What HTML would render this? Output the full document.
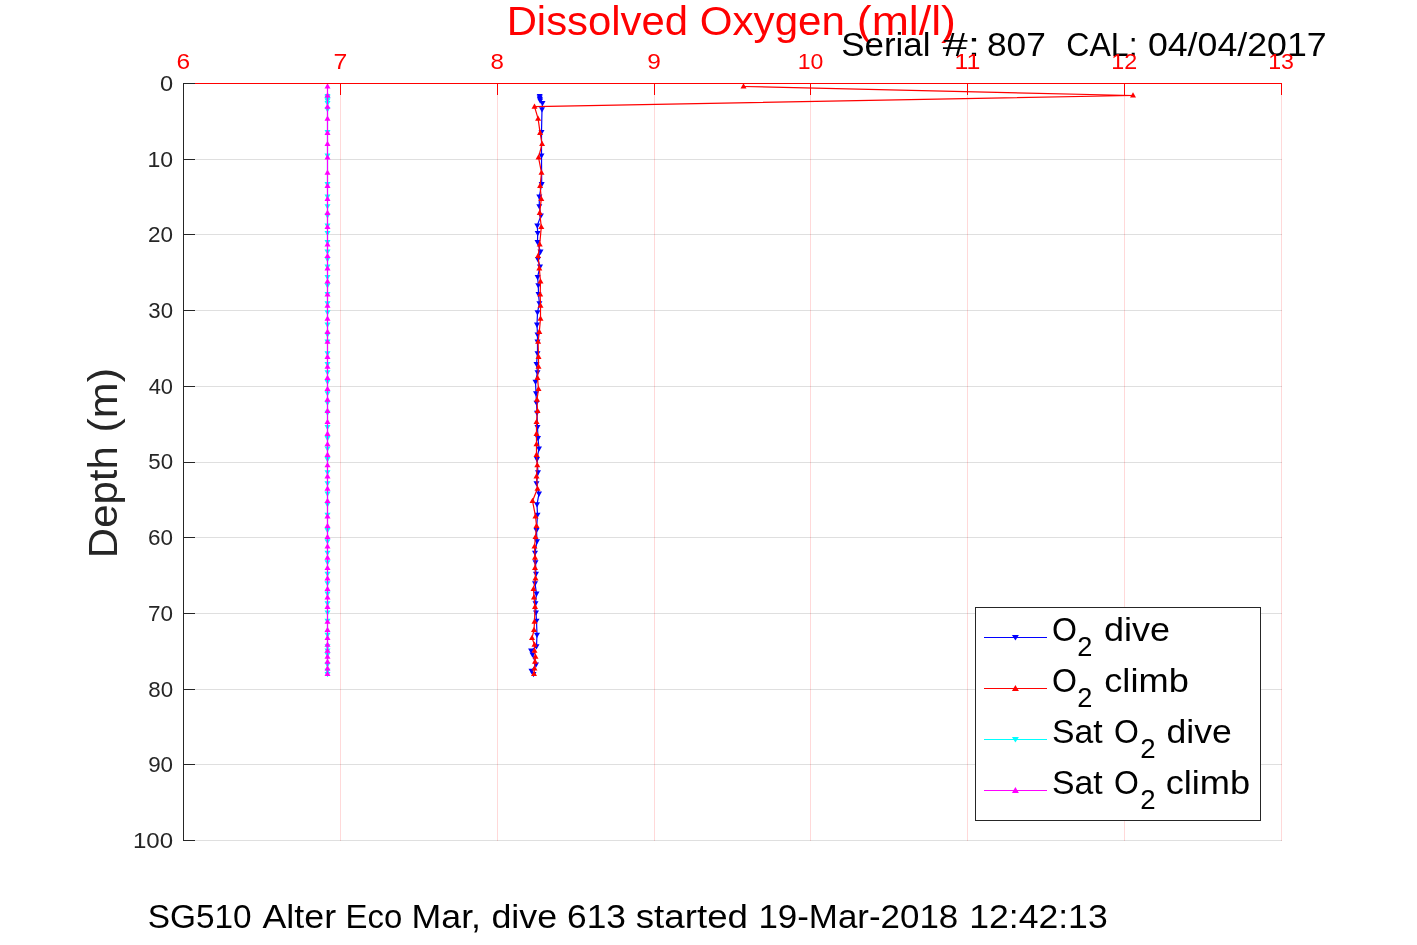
<!DOCTYPE html>
<html><head><meta charset="utf-8"><style>
html,body{margin:0;padding:0;background:#fff;overflow:hidden;}
svg{display:block;font-family:"Liberation Sans",sans-serif;}
</style></head><body>
<svg width="1417" height="945" viewBox="0 0 1417 945">
<rect width="1417" height="945" fill="#fff"/>
<line x1="340.5" y1="83" x2="340.5" y2="841" stroke="#ff0000" stroke-opacity="0.15" stroke-width="1"/>
<line x1="497.5" y1="83" x2="497.5" y2="841" stroke="#ff0000" stroke-opacity="0.15" stroke-width="1"/>
<line x1="654.5" y1="83" x2="654.5" y2="841" stroke="#ff0000" stroke-opacity="0.15" stroke-width="1"/>
<line x1="810.5" y1="83" x2="810.5" y2="841" stroke="#ff0000" stroke-opacity="0.15" stroke-width="1"/>
<line x1="967.5" y1="83" x2="967.5" y2="841" stroke="#ff0000" stroke-opacity="0.15" stroke-width="1"/>
<line x1="1124.5" y1="83" x2="1124.5" y2="841" stroke="#ff0000" stroke-opacity="0.15" stroke-width="1"/>
<line x1="1281.5" y1="83" x2="1281.5" y2="841" stroke="#ff0000" stroke-opacity="0.15" stroke-width="1"/>
<line x1="183" y1="159.5" x2="1282" y2="159.5" stroke="#262626" stroke-opacity="0.15" stroke-width="1"/>
<line x1="183" y1="234.5" x2="1282" y2="234.5" stroke="#262626" stroke-opacity="0.15" stroke-width="1"/>
<line x1="183" y1="310.5" x2="1282" y2="310.5" stroke="#262626" stroke-opacity="0.15" stroke-width="1"/>
<line x1="183" y1="386.5" x2="1282" y2="386.5" stroke="#262626" stroke-opacity="0.15" stroke-width="1"/>
<line x1="183" y1="462.5" x2="1282" y2="462.5" stroke="#262626" stroke-opacity="0.15" stroke-width="1"/>
<line x1="183" y1="537.5" x2="1282" y2="537.5" stroke="#262626" stroke-opacity="0.15" stroke-width="1"/>
<line x1="183" y1="613.5" x2="1282" y2="613.5" stroke="#262626" stroke-opacity="0.15" stroke-width="1"/>
<line x1="183" y1="689.5" x2="1282" y2="689.5" stroke="#262626" stroke-opacity="0.15" stroke-width="1"/>
<line x1="183" y1="764.5" x2="1282" y2="764.5" stroke="#262626" stroke-opacity="0.15" stroke-width="1"/>
<line x1="183" y1="840.5" x2="1282" y2="840.5" stroke="#262626" stroke-opacity="0.15" stroke-width="1"/>
<path d="M327.5 96.0 L327.5 97.5 L327.5 99.0 L327.5 100.5 L327.5 103.1 L327.5 109.4 L327.5 132.0 L327.5 155.5 L327.5 184.2 L327.5 196.5 L327.5 206.4 L327.5 215.6 L327.5 225.5 L327.5 233.0 L327.5 242.1 L327.5 251.7 L327.5 259.2 L327.5 266.7 L327.5 277.0 L327.5 285.4 L327.5 294.1 L327.5 303.3 L327.5 312.4 L327.5 324.7 L327.5 334.6 L327.5 341.7 L327.5 353.3 L327.5 364.0 L327.5 372.3 L327.5 381.8 L327.5 393.3 L327.5 402.9 L327.5 412.8 L327.5 427.1 L327.5 438.2 L327.5 448.5 L327.5 459.2 L327.5 472.3 L327.5 483.4 L327.5 493.7 L327.5 504.4 L327.5 514.8 L327.5 530.2 L327.5 541.3 L327.5 552.9 L327.5 562.4 L327.5 573.9 L327.5 583.4 L327.5 593.7 L327.5 603.3 L327.5 612.5 L327.5 620.9 L327.5 634.8 L327.5 646.3 L327.5 650.6 L327.5 654.6 L327.5 664.5 L327.5 670.9 L327.5 674.0" fill="none" stroke="#00ffff" stroke-width="1.2" stroke-linejoin="round"/>
<path d="M327.5 99.2L330.5 93.9L324.5 93.9Z" fill="#00ffff"/>
<path d="M327.5 100.7L330.5 95.4L324.5 95.4Z" fill="#00ffff"/>
<path d="M327.5 102.2L330.5 96.9L324.5 96.9Z" fill="#00ffff"/>
<path d="M327.5 103.7L330.5 98.4L324.5 98.4Z" fill="#00ffff"/>
<path d="M327.5 106.3L330.5 101.0L324.5 101.0Z" fill="#00ffff"/>
<path d="M327.5 112.6L330.5 107.3L324.5 107.3Z" fill="#00ffff"/>
<path d="M327.5 135.2L330.5 129.9L324.5 129.9Z" fill="#00ffff"/>
<path d="M327.5 158.7L330.5 153.4L324.5 153.4Z" fill="#00ffff"/>
<path d="M327.5 187.4L330.5 182.1L324.5 182.1Z" fill="#00ffff"/>
<path d="M327.5 199.7L330.5 194.4L324.5 194.4Z" fill="#00ffff"/>
<path d="M327.5 209.6L330.5 204.3L324.5 204.3Z" fill="#00ffff"/>
<path d="M327.5 218.8L330.5 213.5L324.5 213.5Z" fill="#00ffff"/>
<path d="M327.5 228.7L330.5 223.4L324.5 223.4Z" fill="#00ffff"/>
<path d="M327.5 236.2L330.5 230.9L324.5 230.9Z" fill="#00ffff"/>
<path d="M327.5 245.3L330.5 240.0L324.5 240.0Z" fill="#00ffff"/>
<path d="M327.5 254.9L330.5 249.6L324.5 249.6Z" fill="#00ffff"/>
<path d="M327.5 262.4L330.5 257.1L324.5 257.1Z" fill="#00ffff"/>
<path d="M327.5 269.9L330.5 264.6L324.5 264.6Z" fill="#00ffff"/>
<path d="M327.5 280.2L330.5 274.9L324.5 274.9Z" fill="#00ffff"/>
<path d="M327.5 288.6L330.5 283.3L324.5 283.3Z" fill="#00ffff"/>
<path d="M327.5 297.3L330.5 292.0L324.5 292.0Z" fill="#00ffff"/>
<path d="M327.5 306.5L330.5 301.2L324.5 301.2Z" fill="#00ffff"/>
<path d="M327.5 315.6L330.5 310.3L324.5 310.3Z" fill="#00ffff"/>
<path d="M327.5 327.9L330.5 322.6L324.5 322.6Z" fill="#00ffff"/>
<path d="M327.5 337.8L330.5 332.5L324.5 332.5Z" fill="#00ffff"/>
<path d="M327.5 344.9L330.5 339.6L324.5 339.6Z" fill="#00ffff"/>
<path d="M327.5 356.5L330.5 351.2L324.5 351.2Z" fill="#00ffff"/>
<path d="M327.5 367.2L330.5 361.9L324.5 361.9Z" fill="#00ffff"/>
<path d="M327.5 375.5L330.5 370.2L324.5 370.2Z" fill="#00ffff"/>
<path d="M327.5 385.0L330.5 379.7L324.5 379.7Z" fill="#00ffff"/>
<path d="M327.5 396.5L330.5 391.2L324.5 391.2Z" fill="#00ffff"/>
<path d="M327.5 406.1L330.5 400.8L324.5 400.8Z" fill="#00ffff"/>
<path d="M327.5 416.0L330.5 410.7L324.5 410.7Z" fill="#00ffff"/>
<path d="M327.5 430.3L330.5 425.0L324.5 425.0Z" fill="#00ffff"/>
<path d="M327.5 441.4L330.5 436.1L324.5 436.1Z" fill="#00ffff"/>
<path d="M327.5 451.7L330.5 446.4L324.5 446.4Z" fill="#00ffff"/>
<path d="M327.5 462.4L330.5 457.1L324.5 457.1Z" fill="#00ffff"/>
<path d="M327.5 475.5L330.5 470.2L324.5 470.2Z" fill="#00ffff"/>
<path d="M327.5 486.6L330.5 481.3L324.5 481.3Z" fill="#00ffff"/>
<path d="M327.5 496.9L330.5 491.6L324.5 491.6Z" fill="#00ffff"/>
<path d="M327.5 507.6L330.5 502.3L324.5 502.3Z" fill="#00ffff"/>
<path d="M327.5 518.0L330.5 512.7L324.5 512.7Z" fill="#00ffff"/>
<path d="M327.5 533.4L330.5 528.1L324.5 528.1Z" fill="#00ffff"/>
<path d="M327.5 544.5L330.5 539.2L324.5 539.2Z" fill="#00ffff"/>
<path d="M327.5 556.1L330.5 550.8L324.5 550.8Z" fill="#00ffff"/>
<path d="M327.5 565.6L330.5 560.3L324.5 560.3Z" fill="#00ffff"/>
<path d="M327.5 577.1L330.5 571.8L324.5 571.8Z" fill="#00ffff"/>
<path d="M327.5 586.6L330.5 581.3L324.5 581.3Z" fill="#00ffff"/>
<path d="M327.5 596.9L330.5 591.6L324.5 591.6Z" fill="#00ffff"/>
<path d="M327.5 606.5L330.5 601.2L324.5 601.2Z" fill="#00ffff"/>
<path d="M327.5 615.7L330.5 610.4L324.5 610.4Z" fill="#00ffff"/>
<path d="M327.5 624.1L330.5 618.8L324.5 618.8Z" fill="#00ffff"/>
<path d="M327.5 638.0L330.5 632.7L324.5 632.7Z" fill="#00ffff"/>
<path d="M327.5 649.5L330.5 644.2L324.5 644.2Z" fill="#00ffff"/>
<path d="M327.5 653.8L330.5 648.5L324.5 648.5Z" fill="#00ffff"/>
<path d="M327.5 657.8L330.5 652.5L324.5 652.5Z" fill="#00ffff"/>
<path d="M327.5 667.7L330.5 662.4L324.5 662.4Z" fill="#00ffff"/>
<path d="M327.5 674.1L330.5 668.8L324.5 668.8Z" fill="#00ffff"/>
<path d="M327.5 677.2L330.5 671.9L324.5 671.9Z" fill="#00ffff"/>
<path d="M327.5 86.5 L327.5 95.5 L327.5 106.7 L327.5 118.6 L327.5 132.8 L327.5 144.0 L327.5 157.4 L327.5 172.7 L327.5 185.8 L327.5 198.9 L327.5 212.8 L327.5 227.0 L327.5 244.5 L327.5 256.0 L327.5 268.3 L327.5 281.4 L327.5 294.5 L327.5 305.6 L327.5 318.7 L327.5 331.8 L327.5 341.7 L327.5 356.8 L327.5 366.7 L327.5 377.9 L327.5 389.0 L327.5 399.7 L327.5 410.8 L327.5 421.9 L327.5 433.8 L327.5 444.1 L327.5 454.8 L327.5 465.2 L327.5 476.3 L327.5 488.6 L327.5 500.9 L327.5 516.3 L327.5 525.9 L327.5 537.0 L327.5 546.5 L327.5 557.6 L327.5 567.9 L327.5 578.3 L327.5 589.0 L327.5 597.3 L327.5 606.8 L327.5 621.7 L327.5 630.0 L327.5 637.9 L327.5 644.7 L327.5 650.6 L327.5 656.6 L327.5 661.7 L327.5 668.5 L327.5 674.0" fill="none" stroke="#ff00ff" stroke-width="1.2" stroke-linejoin="round"/>
<path d="M327.5 83.3L330.5 88.6L324.5 88.6Z" fill="#ff00ff"/>
<path d="M327.5 92.3L330.5 97.6L324.5 97.6Z" fill="#ff00ff"/>
<path d="M327.5 103.5L330.5 108.8L324.5 108.8Z" fill="#ff00ff"/>
<path d="M327.5 115.4L330.5 120.7L324.5 120.7Z" fill="#ff00ff"/>
<path d="M327.5 129.6L330.5 134.9L324.5 134.9Z" fill="#ff00ff"/>
<path d="M327.5 140.8L330.5 146.1L324.5 146.1Z" fill="#ff00ff"/>
<path d="M327.5 154.2L330.5 159.5L324.5 159.5Z" fill="#ff00ff"/>
<path d="M327.5 169.5L330.5 174.8L324.5 174.8Z" fill="#ff00ff"/>
<path d="M327.5 182.6L330.5 187.9L324.5 187.9Z" fill="#ff00ff"/>
<path d="M327.5 195.7L330.5 201.0L324.5 201.0Z" fill="#ff00ff"/>
<path d="M327.5 209.6L330.5 214.9L324.5 214.9Z" fill="#ff00ff"/>
<path d="M327.5 223.8L330.5 229.1L324.5 229.1Z" fill="#ff00ff"/>
<path d="M327.5 241.3L330.5 246.6L324.5 246.6Z" fill="#ff00ff"/>
<path d="M327.5 252.8L330.5 258.1L324.5 258.1Z" fill="#ff00ff"/>
<path d="M327.5 265.1L330.5 270.4L324.5 270.4Z" fill="#ff00ff"/>
<path d="M327.5 278.2L330.5 283.5L324.5 283.5Z" fill="#ff00ff"/>
<path d="M327.5 291.3L330.5 296.6L324.5 296.6Z" fill="#ff00ff"/>
<path d="M327.5 302.4L330.5 307.7L324.5 307.7Z" fill="#ff00ff"/>
<path d="M327.5 315.5L330.5 320.8L324.5 320.8Z" fill="#ff00ff"/>
<path d="M327.5 328.6L330.5 333.9L324.5 333.9Z" fill="#ff00ff"/>
<path d="M327.5 338.5L330.5 343.8L324.5 343.8Z" fill="#ff00ff"/>
<path d="M327.5 353.6L330.5 358.9L324.5 358.9Z" fill="#ff00ff"/>
<path d="M327.5 363.5L330.5 368.8L324.5 368.8Z" fill="#ff00ff"/>
<path d="M327.5 374.7L330.5 380.0L324.5 380.0Z" fill="#ff00ff"/>
<path d="M327.5 385.8L330.5 391.1L324.5 391.1Z" fill="#ff00ff"/>
<path d="M327.5 396.5L330.5 401.8L324.5 401.8Z" fill="#ff00ff"/>
<path d="M327.5 407.6L330.5 412.9L324.5 412.9Z" fill="#ff00ff"/>
<path d="M327.5 418.7L330.5 424.0L324.5 424.0Z" fill="#ff00ff"/>
<path d="M327.5 430.6L330.5 435.9L324.5 435.9Z" fill="#ff00ff"/>
<path d="M327.5 440.9L330.5 446.2L324.5 446.2Z" fill="#ff00ff"/>
<path d="M327.5 451.6L330.5 456.9L324.5 456.9Z" fill="#ff00ff"/>
<path d="M327.5 462.0L330.5 467.3L324.5 467.3Z" fill="#ff00ff"/>
<path d="M327.5 473.1L330.5 478.4L324.5 478.4Z" fill="#ff00ff"/>
<path d="M327.5 485.4L330.5 490.7L324.5 490.7Z" fill="#ff00ff"/>
<path d="M327.5 497.7L330.5 503.0L324.5 503.0Z" fill="#ff00ff"/>
<path d="M327.5 513.1L330.5 518.4L324.5 518.4Z" fill="#ff00ff"/>
<path d="M327.5 522.7L330.5 528.0L324.5 528.0Z" fill="#ff00ff"/>
<path d="M327.5 533.8L330.5 539.1L324.5 539.1Z" fill="#ff00ff"/>
<path d="M327.5 543.3L330.5 548.6L324.5 548.6Z" fill="#ff00ff"/>
<path d="M327.5 554.4L330.5 559.7L324.5 559.7Z" fill="#ff00ff"/>
<path d="M327.5 564.7L330.5 570.0L324.5 570.0Z" fill="#ff00ff"/>
<path d="M327.5 575.1L330.5 580.4L324.5 580.4Z" fill="#ff00ff"/>
<path d="M327.5 585.8L330.5 591.1L324.5 591.1Z" fill="#ff00ff"/>
<path d="M327.5 594.1L330.5 599.4L324.5 599.4Z" fill="#ff00ff"/>
<path d="M327.5 603.6L330.5 608.9L324.5 608.9Z" fill="#ff00ff"/>
<path d="M327.5 618.5L330.5 623.8L324.5 623.8Z" fill="#ff00ff"/>
<path d="M327.5 626.8L330.5 632.1L324.5 632.1Z" fill="#ff00ff"/>
<path d="M327.5 634.7L330.5 640.0L324.5 640.0Z" fill="#ff00ff"/>
<path d="M327.5 641.5L330.5 646.8L324.5 646.8Z" fill="#ff00ff"/>
<path d="M327.5 647.4L330.5 652.7L324.5 652.7Z" fill="#ff00ff"/>
<path d="M327.5 653.4L330.5 658.7L324.5 658.7Z" fill="#ff00ff"/>
<path d="M327.5 658.5L330.5 663.8L324.5 663.8Z" fill="#ff00ff"/>
<path d="M327.5 665.3L330.5 670.6L324.5 670.6Z" fill="#ff00ff"/>
<path d="M327.5 670.8L330.5 676.1L324.5 676.1Z" fill="#ff00ff"/>
<path d="M539.7 96.0 L539.7 97.5 L539.9 99.0 L540.2 100.5 L542.5 103.1 L542.0 109.4 L541.5 132.0 L541.5 155.5 L541.7 184.2 L539.3 196.5 L539.3 206.4 L540.9 215.6 L537.3 225.5 L537.7 233.0 L537.5 242.1 L540.5 251.7 L537.9 259.2 L540.0 266.7 L537.6 277.0 L538.3 285.4 L538.5 294.1 L539.4 303.3 L537.5 312.4 L537.0 324.7 L537.5 334.6 L537.5 341.7 L537.5 353.3 L536.5 364.0 L537.5 372.3 L535.5 381.8 L536.0 393.3 L536.5 402.9 L537.0 412.8 L537.5 427.1 L538.0 438.2 L539.0 448.5 L537.0 459.2 L538.0 472.3 L536.5 483.4 L539.0 493.7 L537.0 504.4 L537.5 514.8 L536.5 530.2 L537.0 541.3 L535.0 552.9 L535.5 562.4 L536.0 573.9 L535.0 583.4 L536.5 593.7 L535.5 603.3 L536.0 612.5 L536.5 620.9 L537.0 634.8 L536.5 646.3 L531.1 650.6 L532.5 654.6 L536.0 664.5 L531.5 670.9 L533.5 674.0" fill="none" stroke="#0000ff" stroke-width="1.2" stroke-linejoin="round"/>
<path d="M539.7 99.2L542.7 93.9L536.7 93.9Z" fill="#0000ff"/>
<path d="M539.7 100.7L542.7 95.4L536.7 95.4Z" fill="#0000ff"/>
<path d="M539.9 102.2L542.9 96.9L536.9 96.9Z" fill="#0000ff"/>
<path d="M540.2 103.7L543.2 98.4L537.2 98.4Z" fill="#0000ff"/>
<path d="M542.5 106.3L545.5 101.0L539.5 101.0Z" fill="#0000ff"/>
<path d="M542.0 112.6L545.0 107.3L539.0 107.3Z" fill="#0000ff"/>
<path d="M541.5 135.2L544.5 129.9L538.5 129.9Z" fill="#0000ff"/>
<path d="M541.5 158.7L544.5 153.4L538.5 153.4Z" fill="#0000ff"/>
<path d="M541.7 187.4L544.7 182.1L538.7 182.1Z" fill="#0000ff"/>
<path d="M539.3 199.7L542.3 194.4L536.3 194.4Z" fill="#0000ff"/>
<path d="M539.3 209.6L542.3 204.3L536.3 204.3Z" fill="#0000ff"/>
<path d="M540.9 218.8L543.9 213.5L537.9 213.5Z" fill="#0000ff"/>
<path d="M537.3 228.7L540.3 223.4L534.3 223.4Z" fill="#0000ff"/>
<path d="M537.7 236.2L540.7 230.9L534.7 230.9Z" fill="#0000ff"/>
<path d="M537.5 245.3L540.5 240.0L534.5 240.0Z" fill="#0000ff"/>
<path d="M540.5 254.9L543.5 249.6L537.5 249.6Z" fill="#0000ff"/>
<path d="M537.9 262.4L540.9 257.1L534.9 257.1Z" fill="#0000ff"/>
<path d="M540.0 269.9L543.0 264.6L537.0 264.6Z" fill="#0000ff"/>
<path d="M537.6 280.2L540.6 274.9L534.6 274.9Z" fill="#0000ff"/>
<path d="M538.3 288.6L541.3 283.3L535.3 283.3Z" fill="#0000ff"/>
<path d="M538.5 297.3L541.5 292.0L535.5 292.0Z" fill="#0000ff"/>
<path d="M539.4 306.5L542.4 301.2L536.4 301.2Z" fill="#0000ff"/>
<path d="M537.5 315.6L540.5 310.3L534.5 310.3Z" fill="#0000ff"/>
<path d="M537.0 327.9L540.0 322.6L534.0 322.6Z" fill="#0000ff"/>
<path d="M537.5 337.8L540.5 332.5L534.5 332.5Z" fill="#0000ff"/>
<path d="M537.5 344.9L540.5 339.6L534.5 339.6Z" fill="#0000ff"/>
<path d="M537.5 356.5L540.5 351.2L534.5 351.2Z" fill="#0000ff"/>
<path d="M536.5 367.2L539.5 361.9L533.5 361.9Z" fill="#0000ff"/>
<path d="M537.5 375.5L540.5 370.2L534.5 370.2Z" fill="#0000ff"/>
<path d="M535.5 385.0L538.5 379.7L532.5 379.7Z" fill="#0000ff"/>
<path d="M536.0 396.5L539.0 391.2L533.0 391.2Z" fill="#0000ff"/>
<path d="M536.5 406.1L539.5 400.8L533.5 400.8Z" fill="#0000ff"/>
<path d="M537.0 416.0L540.0 410.7L534.0 410.7Z" fill="#0000ff"/>
<path d="M537.5 430.3L540.5 425.0L534.5 425.0Z" fill="#0000ff"/>
<path d="M538.0 441.4L541.0 436.1L535.0 436.1Z" fill="#0000ff"/>
<path d="M539.0 451.7L542.0 446.4L536.0 446.4Z" fill="#0000ff"/>
<path d="M537.0 462.4L540.0 457.1L534.0 457.1Z" fill="#0000ff"/>
<path d="M538.0 475.5L541.0 470.2L535.0 470.2Z" fill="#0000ff"/>
<path d="M536.5 486.6L539.5 481.3L533.5 481.3Z" fill="#0000ff"/>
<path d="M539.0 496.9L542.0 491.6L536.0 491.6Z" fill="#0000ff"/>
<path d="M537.0 507.6L540.0 502.3L534.0 502.3Z" fill="#0000ff"/>
<path d="M537.5 518.0L540.5 512.7L534.5 512.7Z" fill="#0000ff"/>
<path d="M536.5 533.4L539.5 528.1L533.5 528.1Z" fill="#0000ff"/>
<path d="M537.0 544.5L540.0 539.2L534.0 539.2Z" fill="#0000ff"/>
<path d="M535.0 556.1L538.0 550.8L532.0 550.8Z" fill="#0000ff"/>
<path d="M535.5 565.6L538.5 560.3L532.5 560.3Z" fill="#0000ff"/>
<path d="M536.0 577.1L539.0 571.8L533.0 571.8Z" fill="#0000ff"/>
<path d="M535.0 586.6L538.0 581.3L532.0 581.3Z" fill="#0000ff"/>
<path d="M536.5 596.9L539.5 591.6L533.5 591.6Z" fill="#0000ff"/>
<path d="M535.5 606.5L538.5 601.2L532.5 601.2Z" fill="#0000ff"/>
<path d="M536.0 615.7L539.0 610.4L533.0 610.4Z" fill="#0000ff"/>
<path d="M536.5 624.1L539.5 618.8L533.5 618.8Z" fill="#0000ff"/>
<path d="M537.0 638.0L540.0 632.7L534.0 632.7Z" fill="#0000ff"/>
<path d="M536.5 649.5L539.5 644.2L533.5 644.2Z" fill="#0000ff"/>
<path d="M531.1 653.8L534.1 648.5L528.1 648.5Z" fill="#0000ff"/>
<path d="M532.5 657.8L535.5 652.5L529.5 652.5Z" fill="#0000ff"/>
<path d="M536.0 667.7L539.0 662.4L533.0 662.4Z" fill="#0000ff"/>
<path d="M531.5 674.1L534.5 668.8L528.5 668.8Z" fill="#0000ff"/>
<path d="M533.5 677.2L536.5 671.9L530.5 671.9Z" fill="#0000ff"/>
<path d="M743.5 86.5 L1133.0 95.5 L534.5 106.7 L538.1 118.6 L540.1 132.8 L542.1 144.0 L538.5 157.4 L541.5 172.7 L540.1 185.8 L541.3 198.9 L539.7 212.8 L541.3 227.0 L539.7 244.5 L538.1 256.0 L539.3 268.3 L540.5 281.4 L540.2 294.5 L540.5 305.6 L540.5 318.7 L539.3 331.8 L538.1 341.7 L538.5 356.8 L538.5 366.7 L537.5 377.9 L538.5 389.0 L537.0 399.7 L537.5 410.8 L536.5 421.9 L536.5 433.8 L536.5 444.1 L536.5 454.8 L537.3 465.2 L536.5 476.3 L537.5 488.6 L532.5 500.9 L535.5 516.3 L536.5 525.9 L535.5 537.0 L534.5 546.5 L535.0 557.6 L535.0 567.9 L535.5 578.3 L533.5 589.0 L534.0 597.3 L535.0 606.8 L534.5 621.7 L534.0 630.0 L532.0 637.9 L534.5 644.7 L534.5 650.6 L535.5 656.6 L535.0 661.7 L534.5 668.5 L534.0 674.0" fill="none" stroke="#ff0000" stroke-width="1.2" stroke-linejoin="round"/>
<path d="M743.5 83.3L746.5 88.6L740.5 88.6Z" fill="#ff0000"/>
<path d="M1133.0 92.3L1136.0 97.6L1130.0 97.6Z" fill="#ff0000"/>
<path d="M534.5 103.5L537.5 108.8L531.5 108.8Z" fill="#ff0000"/>
<path d="M538.1 115.4L541.1 120.7L535.1 120.7Z" fill="#ff0000"/>
<path d="M540.1 129.6L543.1 134.9L537.1 134.9Z" fill="#ff0000"/>
<path d="M542.1 140.8L545.1 146.1L539.1 146.1Z" fill="#ff0000"/>
<path d="M538.5 154.2L541.5 159.5L535.5 159.5Z" fill="#ff0000"/>
<path d="M541.5 169.5L544.5 174.8L538.5 174.8Z" fill="#ff0000"/>
<path d="M540.1 182.6L543.1 187.9L537.1 187.9Z" fill="#ff0000"/>
<path d="M541.3 195.7L544.3 201.0L538.3 201.0Z" fill="#ff0000"/>
<path d="M539.7 209.6L542.7 214.9L536.7 214.9Z" fill="#ff0000"/>
<path d="M541.3 223.8L544.3 229.1L538.3 229.1Z" fill="#ff0000"/>
<path d="M539.7 241.3L542.7 246.6L536.7 246.6Z" fill="#ff0000"/>
<path d="M538.1 252.8L541.1 258.1L535.1 258.1Z" fill="#ff0000"/>
<path d="M539.3 265.1L542.3 270.4L536.3 270.4Z" fill="#ff0000"/>
<path d="M540.5 278.2L543.5 283.5L537.5 283.5Z" fill="#ff0000"/>
<path d="M540.2 291.3L543.2 296.6L537.2 296.6Z" fill="#ff0000"/>
<path d="M540.5 302.4L543.5 307.7L537.5 307.7Z" fill="#ff0000"/>
<path d="M540.5 315.5L543.5 320.8L537.5 320.8Z" fill="#ff0000"/>
<path d="M539.3 328.6L542.3 333.9L536.3 333.9Z" fill="#ff0000"/>
<path d="M538.1 338.5L541.1 343.8L535.1 343.8Z" fill="#ff0000"/>
<path d="M538.5 353.6L541.5 358.9L535.5 358.9Z" fill="#ff0000"/>
<path d="M538.5 363.5L541.5 368.8L535.5 368.8Z" fill="#ff0000"/>
<path d="M537.5 374.7L540.5 380.0L534.5 380.0Z" fill="#ff0000"/>
<path d="M538.5 385.8L541.5 391.1L535.5 391.1Z" fill="#ff0000"/>
<path d="M537.0 396.5L540.0 401.8L534.0 401.8Z" fill="#ff0000"/>
<path d="M537.5 407.6L540.5 412.9L534.5 412.9Z" fill="#ff0000"/>
<path d="M536.5 418.7L539.5 424.0L533.5 424.0Z" fill="#ff0000"/>
<path d="M536.5 430.6L539.5 435.9L533.5 435.9Z" fill="#ff0000"/>
<path d="M536.5 440.9L539.5 446.2L533.5 446.2Z" fill="#ff0000"/>
<path d="M536.5 451.6L539.5 456.9L533.5 456.9Z" fill="#ff0000"/>
<path d="M537.3 462.0L540.3 467.3L534.3 467.3Z" fill="#ff0000"/>
<path d="M536.5 473.1L539.5 478.4L533.5 478.4Z" fill="#ff0000"/>
<path d="M537.5 485.4L540.5 490.7L534.5 490.7Z" fill="#ff0000"/>
<path d="M532.5 497.7L535.5 503.0L529.5 503.0Z" fill="#ff0000"/>
<path d="M535.5 513.1L538.5 518.4L532.5 518.4Z" fill="#ff0000"/>
<path d="M536.5 522.7L539.5 528.0L533.5 528.0Z" fill="#ff0000"/>
<path d="M535.5 533.8L538.5 539.1L532.5 539.1Z" fill="#ff0000"/>
<path d="M534.5 543.3L537.5 548.6L531.5 548.6Z" fill="#ff0000"/>
<path d="M535.0 554.4L538.0 559.7L532.0 559.7Z" fill="#ff0000"/>
<path d="M535.0 564.7L538.0 570.0L532.0 570.0Z" fill="#ff0000"/>
<path d="M535.5 575.1L538.5 580.4L532.5 580.4Z" fill="#ff0000"/>
<path d="M533.5 585.8L536.5 591.1L530.5 591.1Z" fill="#ff0000"/>
<path d="M534.0 594.1L537.0 599.4L531.0 599.4Z" fill="#ff0000"/>
<path d="M535.0 603.6L538.0 608.9L532.0 608.9Z" fill="#ff0000"/>
<path d="M534.5 618.5L537.5 623.8L531.5 623.8Z" fill="#ff0000"/>
<path d="M534.0 626.8L537.0 632.1L531.0 632.1Z" fill="#ff0000"/>
<path d="M532.0 634.7L535.0 640.0L529.0 640.0Z" fill="#ff0000"/>
<path d="M534.5 641.5L537.5 646.8L531.5 646.8Z" fill="#ff0000"/>
<path d="M534.5 647.4L537.5 652.7L531.5 652.7Z" fill="#ff0000"/>
<path d="M535.5 653.4L538.5 658.7L532.5 658.7Z" fill="#ff0000"/>
<path d="M535.0 658.5L538.0 663.8L532.0 663.8Z" fill="#ff0000"/>
<path d="M534.5 665.3L537.5 670.6L531.5 670.6Z" fill="#ff0000"/>
<path d="M534.0 670.8L537.0 676.1L531.0 676.1Z" fill="#ff0000"/>
<line x1="183.5" y1="83" x2="183.5" y2="841" stroke="#262626" stroke-width="1"/>
<line x1="194" y1="83.5" x2="1282" y2="83.5" stroke="#ff0000" stroke-width="1"/>
<line x1="340.5" y1="83" x2="340.5" y2="95" stroke="#ff0000" stroke-width="1"/>
<line x1="497.5" y1="83" x2="497.5" y2="95" stroke="#ff0000" stroke-width="1"/>
<line x1="654.5" y1="83" x2="654.5" y2="95" stroke="#ff0000" stroke-width="1"/>
<line x1="810.5" y1="83" x2="810.5" y2="95" stroke="#ff0000" stroke-width="1"/>
<line x1="967.5" y1="83" x2="967.5" y2="95" stroke="#ff0000" stroke-width="1"/>
<line x1="1124.5" y1="83" x2="1124.5" y2="95" stroke="#ff0000" stroke-width="1"/>
<line x1="1281.5" y1="83" x2="1281.5" y2="95" stroke="#ff0000" stroke-width="1"/>
<line x1="183" y1="83.5" x2="195" y2="83.5" stroke="#262626" stroke-width="1"/>
<line x1="183" y1="159.5" x2="195" y2="159.5" stroke="#262626" stroke-width="1"/>
<line x1="183" y1="234.5" x2="195" y2="234.5" stroke="#262626" stroke-width="1"/>
<line x1="183" y1="310.5" x2="195" y2="310.5" stroke="#262626" stroke-width="1"/>
<line x1="183" y1="386.5" x2="195" y2="386.5" stroke="#262626" stroke-width="1"/>
<line x1="183" y1="462.5" x2="195" y2="462.5" stroke="#262626" stroke-width="1"/>
<line x1="183" y1="537.5" x2="195" y2="537.5" stroke="#262626" stroke-width="1"/>
<line x1="183" y1="613.5" x2="195" y2="613.5" stroke="#262626" stroke-width="1"/>
<line x1="183" y1="689.5" x2="195" y2="689.5" stroke="#262626" stroke-width="1"/>
<line x1="183" y1="764.5" x2="195" y2="764.5" stroke="#262626" stroke-width="1"/>
<line x1="183" y1="840.5" x2="195" y2="840.5" stroke="#262626" stroke-width="1"/>
<rect x="975.5" y="607.5" width="285" height="213" fill="#fff" stroke="#262626" stroke-width="1"/>
<g opacity="0.999">
<text x="159.98" y="90.9" font-size="22" fill="#262626" textLength="13.15" lengthAdjust="spacingAndGlyphs">0</text>
<text x="147.44" y="166.6" font-size="22" fill="#262626" textLength="25.66" lengthAdjust="spacingAndGlyphs">10</text>
<text x="148.07" y="242.3" font-size="22" fill="#262626" textLength="25.01" lengthAdjust="spacingAndGlyphs">20</text>
<text x="148.35" y="318.0" font-size="22" fill="#262626" textLength="24.71" lengthAdjust="spacingAndGlyphs">30</text>
<text x="148.70" y="393.7" font-size="22" fill="#262626" textLength="24.36" lengthAdjust="spacingAndGlyphs">40</text>
<text x="148.31" y="469.4" font-size="22" fill="#262626" textLength="24.76" lengthAdjust="spacingAndGlyphs">50</text>
<text x="148.06" y="545.1" font-size="22" fill="#262626" textLength="25.02" lengthAdjust="spacingAndGlyphs">60</text>
<text x="148.05" y="620.8" font-size="22" fill="#262626" textLength="25.03" lengthAdjust="spacingAndGlyphs">70</text>
<text x="148.23" y="696.5" font-size="22" fill="#262626" textLength="24.84" lengthAdjust="spacingAndGlyphs">80</text>
<text x="148.15" y="772.2" font-size="22" fill="#262626" textLength="24.93" lengthAdjust="spacingAndGlyphs">90</text>
<text x="132.97" y="847.9" font-size="22" fill="#262626" textLength="40.17" lengthAdjust="spacingAndGlyphs">100</text>
<text x="506.67" y="35.3" font-size="40" fill="#ff0000" textLength="181.33" lengthAdjust="spacingAndGlyphs">Dissolved</text>
<text x="699.81" y="35.3" font-size="40" fill="#ff0000" textLength="145.13" lengthAdjust="spacingAndGlyphs">Oxygen</text>
<text x="856.83" y="35.3" font-size="40" fill="#ff0000" textLength="99.14" lengthAdjust="spacingAndGlyphs">(ml/l)</text>
<text x="841.32" y="56.4" font-size="33.3" fill="#000" textLength="89.22" lengthAdjust="spacingAndGlyphs">Serial</text>
<text x="942.80" y="56.4" font-size="33.3" fill="#000" textLength="37.39" lengthAdjust="spacingAndGlyphs">#:</text>
<text x="986.97" y="56.4" font-size="33.3" fill="#000" textLength="58.91" lengthAdjust="spacingAndGlyphs">807</text>
<text x="1066.27" y="56.4" font-size="33.3" fill="#000" textLength="71.36" lengthAdjust="spacingAndGlyphs">CAL:</text>
<text x="1147.91" y="56.4" font-size="33.3" fill="#000" textLength="178.69" lengthAdjust="spacingAndGlyphs">04/04/2017</text>
<text x="176.61" y="68.9" font-size="22" fill="#ff0000" textLength="13.62" lengthAdjust="spacingAndGlyphs">6</text>
<text x="333.43" y="68.9" font-size="22" fill="#ff0000" textLength="13.82" lengthAdjust="spacingAndGlyphs">7</text>
<text x="490.52" y="68.9" font-size="22" fill="#ff0000" textLength="13.39" lengthAdjust="spacingAndGlyphs">8</text>
<text x="647.27" y="68.9" font-size="22" fill="#ff0000" textLength="13.61" lengthAdjust="spacingAndGlyphs">9</text>
<text x="797.67" y="68.9" font-size="22" fill="#ff0000" textLength="25.66" lengthAdjust="spacingAndGlyphs">10</text>
<text x="954.51" y="68.9" font-size="22" fill="#ff0000" textLength="25.91" lengthAdjust="spacingAndGlyphs">11</text>
<text x="1111.37" y="68.9" font-size="22" fill="#ff0000" textLength="25.95" lengthAdjust="spacingAndGlyphs">12</text>
<text x="1268.23" y="68.9" font-size="22" fill="#ff0000" textLength="25.78" lengthAdjust="spacingAndGlyphs">13</text>
<text x="147.68" y="927.6" font-size="33.2" fill="#000" textLength="103.92" lengthAdjust="spacingAndGlyphs">SG510</text>
<text x="262.53" y="927.6" font-size="33.2" fill="#000" textLength="73.56" lengthAdjust="spacingAndGlyphs">Alter</text>
<text x="345.50" y="927.6" font-size="33.2" fill="#000" textLength="56.68" lengthAdjust="spacingAndGlyphs">Eco</text>
<text x="411.55" y="927.6" font-size="33.2" fill="#000" textLength="69.47" lengthAdjust="spacingAndGlyphs">Mar,</text>
<text x="491.40" y="927.6" font-size="33.2" fill="#000" textLength="65.70" lengthAdjust="spacingAndGlyphs">dive</text>
<text x="567.01" y="927.6" font-size="33.2" fill="#000" textLength="58.95" lengthAdjust="spacingAndGlyphs">613</text>
<text x="635.78" y="927.6" font-size="33.2" fill="#000" textLength="112.19" lengthAdjust="spacingAndGlyphs">started</text>
<text x="758.44" y="927.6" font-size="33.2" fill="#000" textLength="199.77" lengthAdjust="spacingAndGlyphs">19-Mar-2018</text>
<text x="969.29" y="927.6" font-size="33.2" fill="#000" textLength="138.37" lengthAdjust="spacingAndGlyphs">12:42:13</text>
<text transform="translate(117,554.7) rotate(-90)" x="-3.44" y="0" font-size="40.3" fill="#262626" textLength="111.97" lengthAdjust="spacingAndGlyphs">Depth</text>
<text transform="translate(117,554.7) rotate(-90)" x="122.23" y="0" font-size="40.3" fill="#262626" textLength="64.54" lengthAdjust="spacingAndGlyphs">(m)</text>
<line x1="984" y1="637.5" x2="1047" y2="637.5" stroke="#0000ff" stroke-width="1"/>
<path d="M1015.4 640.5L1018.9 635.1L1011.9 635.1Z" fill="#0000ff"/>
<text x="1051.88" y="641.3" font-size="33.2" fill="#000" textLength="24.95" lengthAdjust="spacingAndGlyphs">O</text>
<text x="1077.13" y="655.9" font-size="26.9" fill="#000" textLength="15.14" lengthAdjust="spacingAndGlyphs">2</text>
<text x="1103.99" y="641.3" font-size="33.2" fill="#000" textLength="66.01" lengthAdjust="spacingAndGlyphs">dive</text>
<line x1="984" y1="688.5" x2="1047" y2="688.5" stroke="#ff0000" stroke-width="1"/>
<path d="M1015.4 684.9L1018.9 690.9L1011.9 690.9Z" fill="#ff0000"/>
<text x="1051.88" y="692.3" font-size="33.2" fill="#000" textLength="24.95" lengthAdjust="spacingAndGlyphs">O</text>
<text x="1077.13" y="706.9" font-size="26.9" fill="#000" textLength="15.14" lengthAdjust="spacingAndGlyphs">2</text>
<text x="1104.26" y="692.3" font-size="33.2" fill="#000" textLength="84.56" lengthAdjust="spacingAndGlyphs">climb</text>
<line x1="984" y1="739.5" x2="1047" y2="739.5" stroke="#00ffff" stroke-width="1"/>
<path d="M1015.4 742.5L1018.9 737.1L1011.9 737.1Z" fill="#00ffff"/>
<text x="1052.07" y="743.3" font-size="33.2" fill="#000" textLength="50.68" lengthAdjust="spacingAndGlyphs">Sat</text>
<text x="1113.89" y="743.3" font-size="33.2" fill="#000" textLength="24.84" lengthAdjust="spacingAndGlyphs">O</text>
<text x="1140.21" y="757.9" font-size="26.9" fill="#000" textLength="15.38" lengthAdjust="spacingAndGlyphs">2</text>
<text x="1166.51" y="743.3" font-size="33.2" fill="#000" textLength="65.28" lengthAdjust="spacingAndGlyphs">dive</text>
<line x1="984" y1="790.5" x2="1047" y2="790.5" stroke="#ff00ff" stroke-width="1"/>
<path d="M1015.4 786.9L1018.9 792.9L1011.9 792.9Z" fill="#ff00ff"/>
<text x="1052.07" y="794.3" font-size="33.2" fill="#000" textLength="50.68" lengthAdjust="spacingAndGlyphs">Sat</text>
<text x="1113.89" y="794.3" font-size="33.2" fill="#000" textLength="24.84" lengthAdjust="spacingAndGlyphs">O</text>
<text x="1140.21" y="808.9" font-size="26.9" fill="#000" textLength="15.38" lengthAdjust="spacingAndGlyphs">2</text>
<text x="1165.66" y="794.3" font-size="33.2" fill="#000" textLength="84.56" lengthAdjust="spacingAndGlyphs">climb</text>
</g>
</svg></body></html>
